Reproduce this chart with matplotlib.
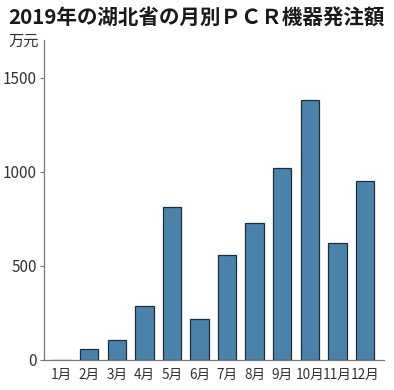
import matplotlib.pyplot as plt
import numpy as np

plt.rcParams['font.family'] = ['Noto Sans CJK JP', 'DejaVu Sans']

months = ['1月', '2月', '3月', '4月', '5月', '6月', '7月', '8月', '9月', '10月', '11月', '12月']
amount = [0, 58, 108, 287, 811, 218, 560, 728, 1020, 1380, 619, 951]  # 万元
yticks = [0, 500, 1000, 1500]

fig = plt.figure(figsize=(3.94, 3.90), dpi=100)
ax = fig.add_axes([44 / 394, 30 / 390, 340 / 394, 320 / 390])

x = np.arange(1, len(months) + 1)
ax.bar(x, amount, width=0.67, color='#4a82aa', edgecolor='#1e2d3a', linewidth=0.9)

ax.set_xlim(0.36, 12.69)
ax.set_ylim(0, 1700)
ax.set_xticks(x)
ax.set_xticklabels(months, fontsize=9.8, color='#333333')
ax.set_yticks(yticks)
ax.set_yticklabels([str(v) for v in yticks], fontsize=11, color='#333333')
ax.tick_params(axis='x', length=0, pad=6)
ax.tick_params(axis='y', length=3, width=0.8, color='#777777', pad=2)

for s in ['top', 'right']:
    ax.spines[s].set_visible(False)
for s in ['left', 'bottom']:
    ax.spines[s].set_color('#777777')
    ax.spines[s].set_linewidth(0.9)

fig.text(8 / 394, 1 - 18 / 390, '2019年の湖北省の月別ＰＣＲ機器発注額', fontsize=14.8,
         fontweight='bold', va='center', ha='left', color='#1a1a1a')
fig.text(8 / 394, 1 - 41 / 390, '万元', fontsize=11, va='center', ha='left', color='#333333')

fig.savefig('out.png', dpi=100)
